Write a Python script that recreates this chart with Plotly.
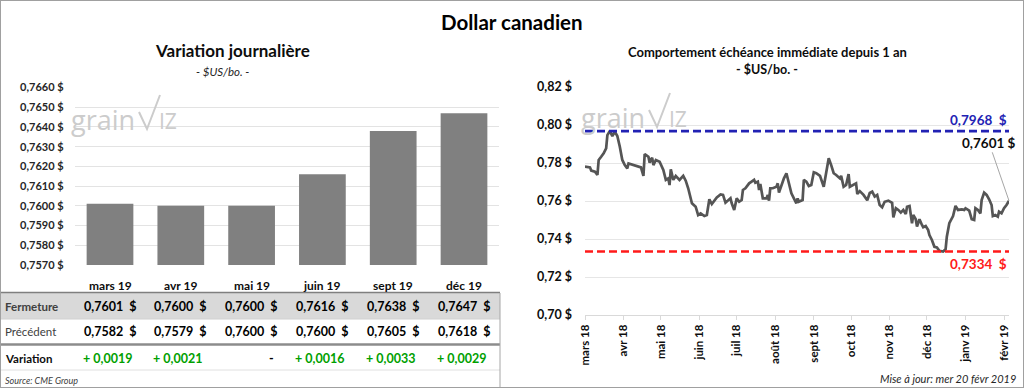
import pandas as pd
import plotly.graph_objects as go

# ---------------- data ----------------
months = ["mars 19", "avr 19", "mai 19", "juin 19", "sept 19", "déc 19"]
fermeture = [0.7601, 0.7600, 0.7600, 0.7616, 0.7638, 0.7647]
precedent = [0.7582, 0.7579, 0.7600, 0.7600, 0.7605, 0.7618]
variation = [0.0019, 0.0021, 0.0, 0.0016, 0.0033, 0.0029]

bar_ticks = [0.7570, 0.7580, 0.7590, 0.7600, 0.7610, 0.7620, 0.7630, 0.7640, 0.7650, 0.7660]
bar_ticktext = ["0,7570 $", "0,7580 $", "0,7590 $", "0,7600 $", "0,7610 $",
                "0,7620 $", "0,7630 $", "0,7640 $", "0,7650 $", "0,7660 $"]

start_date = "2018-03-16"
obs_day = [0, 4, 5, 8, 10, 11, 13, 15, 17, 18, 20, 22, 24, 26, 28, 30, 32, 34, 35, 39,
           43, 45, 47, 48, 51, 52, 54, 55, 57, 60, 63, 65, 67, 68, 69, 71, 73, 76, 79, 81,
           83, 86, 89, 91, 93, 96, 98, 100, 102, 104, 106, 109, 111, 113, 115, 117, 118, 120, 122, 124,
           126, 127, 129, 132, 134, 136, 137, 139, 140, 141, 143, 146, 147, 148, 149, 151, 154, 155, 156, 158,
           160, 162, 164, 166, 168, 170, 171, 172, 175, 176, 178, 180, 182, 184, 186, 189, 192, 194, 196, 198,
           200, 202, 205, 206, 208, 210, 212, 213, 216, 218, 219, 221, 224, 227, 229, 231, 233, 235, 237, 239,
           241, 244, 247, 248, 250, 252, 254, 256, 258, 259, 261, 263, 264, 266, 267, 269, 271, 272, 274, 276,
           277, 279, 281, 283, 285, 288, 290, 291, 293, 296, 298, 300, 303, 305, 306, 309, 311, 313, 314, 316,
           318, 319, 321, 323, 325, 327, 328, 330, 332, 333, 335, 337, 339, 341]
cad_close = [0.7781, 0.7777, 0.7760, 0.7754, 0.7737, 0.7816, 0.7833, 0.7851, 0.7877, 0.7947,
             0.7968, 0.7942, 0.7965, 0.7942, 0.7886, 0.7816, 0.7789, 0.7772, 0.7798, 0.7789,
             0.7784, 0.7777, 0.7732, 0.7847, 0.7833, 0.7802, 0.7828, 0.7789, 0.7816, 0.7807,
             0.7763, 0.7711, 0.7719, 0.7684, 0.7767, 0.7711, 0.7732, 0.7711, 0.7732, 0.7707,
             0.7667, 0.7588, 0.7570, 0.7526, 0.7535, 0.7521, 0.7526, 0.7609, 0.7584, 0.7602,
             0.7619, 0.7635, 0.7632, 0.7591, 0.7605, 0.7614, 0.7588, 0.7553, 0.7614, 0.7596,
             0.7605, 0.7658, 0.7667, 0.7693, 0.7702, 0.7711, 0.7696, 0.7702, 0.7658, 0.7689,
             0.7614, 0.7614, 0.7632, 0.7602, 0.7667, 0.7667, 0.7675, 0.7693, 0.7644, 0.7684,
             0.7719, 0.7746, 0.7684, 0.7640, 0.7614, 0.7588, 0.7614, 0.7596, 0.7605, 0.7711,
             0.7702, 0.7679, 0.7684, 0.7751, 0.7746, 0.7732, 0.7675, 0.7754, 0.7825, 0.7789,
             0.7746, 0.7737, 0.7719, 0.7732, 0.7675, 0.7684, 0.7742, 0.7675, 0.7684, 0.7693,
             0.7637, 0.7652, 0.7632, 0.7604, 0.7642, 0.7649, 0.7623, 0.7632, 0.7579, 0.7567,
             0.7596, 0.7602, 0.7591, 0.7514, 0.7562, 0.7553, 0.7539, 0.7553, 0.7532, 0.7570,
             0.7574, 0.7483, 0.7526, 0.7504, 0.7465, 0.7504, 0.7474, 0.7462, 0.7468, 0.7447,
             0.7421, 0.7395, 0.7359, 0.7356, 0.7338, 0.7334, 0.7346, 0.7412, 0.7483, 0.7521,
             0.7574, 0.7553, 0.7556, 0.7553, 0.7562, 0.7549, 0.7504, 0.7500, 0.7562, 0.7553,
             0.7535, 0.7605, 0.7644, 0.7632, 0.7609, 0.7579, 0.7521, 0.7526, 0.7518, 0.7544,
             0.7535, 0.7562, 0.7579, 0.7601]

year_high = 0.7968
year_low = 0.7334

line_ticks = [0.70, 0.72, 0.74, 0.76, 0.78, 0.80, 0.82]
line_ticktext = ["0,70 $", "0,72 $", "0,74 $", "0,76 $", "0,78 $", "0,80 $", "0,82 $"]
month_tick_dates = ["2018-03-16", "2018-04-16", "2018-05-16", "2018-06-16", "2018-07-16", "2018-08-16",
                    "2018-09-16", "2018-10-16", "2018-11-16", "2018-12-16", "2019-01-16", "2019-02-16"]
month_tick_text = ["mars 18", "avr 18", "mai 18", "juin 18", "juil 18", "août 18",
                   "sept 18", "oct 18", "nov 18", "déc 18", "janv 19", "févr 19"]

# ---------------- helpers ----------------
W, H = 1024, 388
FONT = "Lato, 'Open Sans', sans-serif"


def px(x):
    return x / W


def py(y):
    return 1 - y / H


def fmt(v):
    return f"{v:.4f}".replace(".", ",")


dates = pd.to_datetime(start_date) + pd.to_timedelta(obs_day, unit="D")

fig = go.Figure()

# bar chart
fig.add_trace(go.Bar(x=months, y=fermeture, xaxis="x", yaxis="y",
                     marker=dict(color="#808080", line=dict(width=0)), hoverinfo="skip"))

# line chart
fig.add_trace(go.Scatter(x=dates, y=cad_close, xaxis="x2", yaxis="y2", mode="lines",
                         line=dict(color="#555555", width=2.7), hoverinfo="skip"))
fig.add_trace(go.Scatter(x=[dates[0], dates[-1]], y=[year_high, year_high], xaxis="x2", yaxis="y2",
                         mode="lines", line=dict(color="#2222B4", width=2.6, dash="8px,4px"),
                         hoverinfo="skip"))
fig.add_trace(go.Scatter(x=[dates[0], dates[-1]], y=[year_low, year_low], xaxis="x2", yaxis="y2",
                         mode="lines", line=dict(color="#FF1A1A", width=2.6, dash="8px,4px"),
                         hoverinfo="skip"))

annotations = []


def ann(text, x, y, size=11, weight="normal", color="#000000", xanchor="center",
        style="normal", yanchor="middle", family=FONT):
    annotations.append(dict(text=text, x=px(x), y=py(y), xref="paper", yref="paper",
                            showarrow=False, xanchor=xanchor, yanchor=yanchor,
                            font=dict(family=family, size=size, color=color, weight=weight, style=style)))


def cell(text, col, y, color="#000000", xshift=0, size=12.5, weight="bold"):
    annotations.append(dict(text=text, x=col, y=py(y), xref="x", yref="paper", showarrow=False,
                            xanchor="center", yanchor="middle", xshift=xshift,
                            font=dict(family=FONT, size=size, color=color, weight=weight)))


# titles
ann("Dollar canadien", 512, 22, size=20.5, weight="bold", color="#000000")
ann("Variation journalière", 232, 51, size=17, weight="bold", color="#0d0d0d")
ann("- $US/bo. -", 222, 71, size=11.5, style="italic", color="#262626")
ann("Comportement échéance immédiate depuis 1 an", 767, 52, size=13, weight="bold", color="#0d0d0d")
ann("- $US/bo. -", 767, 69, size=12.5, weight="bold", color="#0d0d0d")

# month headers (columns of the table)
for m in months:
    cell(m, m, 285, color="#0d0d0d", size=12)

# table row labels
ann("Fermeture", 3, 306, size=11.5, weight="bold", color="#404040", xanchor="left")
ann("Précédent", 3, 331, size=11.5, color="#404040", xanchor="left")
ann("Variation", 3, 358, size=11.5, weight="bold", color="#0d0d0d", xanchor="left")
ann("Source: CME Group", 3, 380, size=9, style="italic", color="#404040", xanchor="left")

for m, f, p, v in zip(months, fermeture, precedent, variation):
    cell(fmt(f) + "  $", m, 306)
    cell(fmt(p) + "  $", m, 331)
    if abs(v) < 1e-9:
        cell("-", m, 358, xshift=20)
    else:
        cell("+ " + fmt(v), m, 358, color="#00A000", xshift=-3)

ann("Mise à jour: mer 20 févr 2019", 1018, 378, size=11, style="italic", color="#262626", xanchor="right")

# line labels
annotations.append(dict(text=fmt(year_high) + "  $", x=dates[-1], y=year_high, xref="x2", yref="y2",
                        xanchor="right", yanchor="bottom", yshift=1, showarrow=False,
                        font=dict(family=FONT, size=13.5, color="#2222B4", weight="bold")))
annotations.append(dict(text=fmt(year_low) + "  $", x=dates[-1], y=year_low, xref="x2", yref="y2",
                        xanchor="right", yanchor="top", yshift=-2, showarrow=False,
                        font=dict(family=FONT, size=13.5, color="#FF1A1A", weight="bold")))
annotations.append(dict(text=fmt(cad_close[-1]) + " $", x=dates[-1], y=cad_close[-1], xref="x2", yref="y2",
                        ax=-20, ay=-58, showarrow=True, arrowhead=0, arrowwidth=1, arrowcolor="#a6a6a6",
                        font=dict(family=FONT, size=13.5, color="#0d0d0d", weight="bold")))

# watermarks (grainwiz)
shapes = []
for ox, oy in [(0, 0), (510, -2)]:
    ann("grain", 69 + ox, 119 + oy, size=27, color="#cccccc", xanchor="left", family="'Open Sans', sans-serif")
    ann("IZ", 157 + ox, 121 + oy, size=21, color="#cccccc", xanchor="left", family="'Open Sans', sans-serif")
    shapes.append(dict(type="path", xref="paper", yref="paper",
                       path=f"M {px(139 + ox)} {py(112 + oy)} L {px(147 + ox)} {py(129 + oy)} "
                            f"L {px(160 + ox)} {py(95 + oy)}",
                       line=dict(color="#cccccc", width=2)))

# table shapes
shapes += [
    dict(type="rect", xref="paper", yref="paper", x0=px(0), x1=px(500), y0=py(319), y1=py(293),
         fillcolor="#d9d9d9", line=dict(width=0), layer="below"),
    dict(type="line", xref="paper", yref="paper", x0=px(0), x1=px(500), y0=py(292.5), y1=py(292.5),
         line=dict(color="#7f7f7f", width=1.5)),
    dict(type="line", xref="paper", yref="paper", x0=px(0), x1=px(500), y0=py(319), y1=py(319),
         line=dict(color="#d0d0d0", width=1)),
    dict(type="line", xref="paper", yref="paper", x0=px(0), x1=px(500), y0=py(344.5), y1=py(344.5),
         line=dict(color="#8c8c8c", width=2.5)),
    dict(type="line", xref="paper", yref="paper", x0=px(0), x1=px(500), y0=py(370), y1=py(370),
         line=dict(color="#e0e0e0", width=1)),
    dict(type="line", xref="paper", yref="paper", x0=px(500), x1=px(500), y0=py(293), y1=py(388),
         line=dict(color="#a6a6a6", width=1)),
    dict(type="rect", xref="paper", yref="paper", x0=0, x1=1, y0=0, y1=1,
         line=dict(color="#a0a0a0", width=2)),
]

fig.update_layout(
    width=W, height=H, margin=dict(l=0, r=0, t=0, b=0, pad=0, autoexpand=False),
    paper_bgcolor="#ffffff", plot_bgcolor="rgba(0,0,0,0)",
    showlegend=False, bargap=0.34,
    font=dict(family=FONT, color="#0d0d0d"),
    xaxis=dict(domain=[px(74.6), px(499.4)], anchor="y", type="category", range=[-0.5, 5.5],
               showticklabels=False, showgrid=False, zeroline=False, showline=False, ticks="",
               automargin=False),
    yaxis=dict(domain=[py(265), py(87.5)], anchor="x", range=[0.757, 0.766],
               tickvals=bar_ticks, ticktext=bar_ticktext, showgrid=True, gridcolor="#e3e3e3",
               gridwidth=1, zeroline=False, showline=False, ticks="", ticklabelstandoff=10,
               automargin=False,
               tickfont=dict(family=FONT, size=11, color="#262626", weight="bold")),
    xaxis2=dict(domain=[px(585), px(1009)], anchor="y2", type="date",
                range=[dates[0], dates[-1]], tickvals=month_tick_dates, ticktext=month_tick_text,
                tickangle=-90, showgrid=False, zeroline=False, showline=True, linecolor="#d9d9d9",
                ticks="outside", ticklen=4, tickcolor="#d9d9d9", automargin=False,
                tickfont=dict(family=FONT, size=11.5, color="#0d0d0d", weight="bold")),
    yaxis2=dict(domain=[py(315), py(87)], anchor="x2", range=[0.70, 0.82],
                tickvals=line_ticks, ticktext=line_ticktext, showgrid=True, gridcolor="#e6e6e6",
                zeroline=False, showline=False, ticks="", ticklabelstandoff=12, automargin=False,
                tickfont=dict(family=FONT, size=12.5, color="#0d0d0d", weight="bold")),
    annotations=annotations,
    shapes=shapes,
)

fig.write_html("out.html", config={"displayModeBar": False, "staticPlot": True},
               post_script="document.body.style.margin='0';document.body.style.overflow='hidden';")
